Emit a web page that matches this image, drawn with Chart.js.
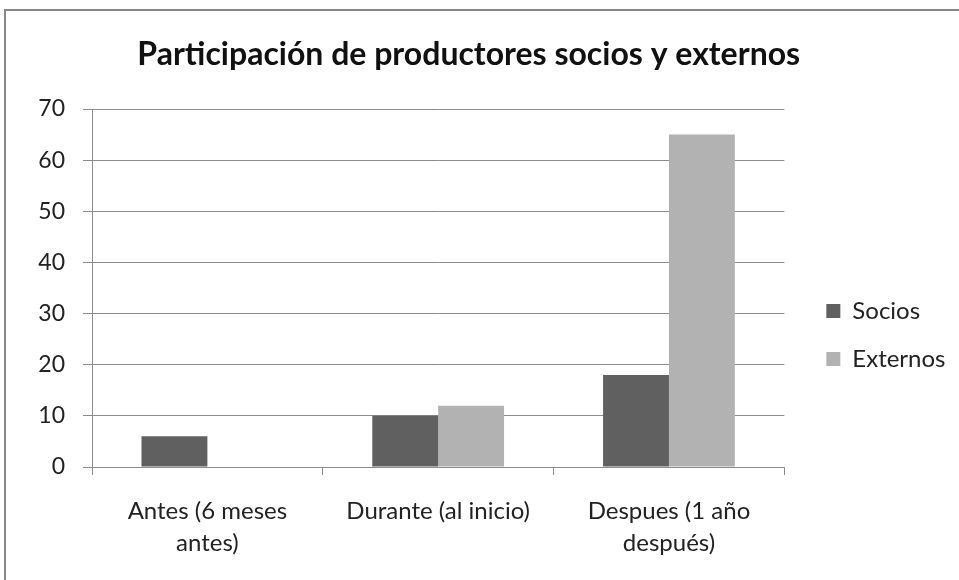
<!DOCTYPE html>
<html lang="es">
<head>
<meta charset="utf-8">
<title>Participación de productores socios y externos</title>
<script src="https://cdn.jsdelivr.net/npm/chart.js@4.4.1/dist/chart.umd.min.js"></script>
<style>
    html, body { margin: 0; padding: 0; background: #ffffff; }
    #chart-wrap { width: 959px; height: 580px; }
</style>
</head>
<body>
<div id="chart-wrap"><canvas id="participation-chart" width="959" height="580"></canvas></div>
<script>
// 데이터
const categoryLabels = [['Antes (6 meses', 'antes)'], 'Durante (al inicio)', ['Despues (1 año', 'después)']];
const seriesNames = ['Socios', 'Externos'];
const sociosValues = [6, 10, 18];
const externosValues = [0, 12, 65];
const yMin = 0;
const yMax = 70;
const yStep = 10;

const FONT_FAMILY = 'Lato, "Open Sans", sans-serif';
const TEXT_COLOR = '#222222';
const LINE_COLOR = '#8c8c8c';

/**
 * 차트 바깥 테두리 (흰 배경 + 회색 선)
 */
const framePlugin = {
    id: 'frame',
    beforeDraw(chart) {
        const ctx = chart.ctx;
        ctx.save();
        ctx.fillStyle = '#ffffff';
        ctx.fillRect(0, 0, chart.width, chart.height);
        ctx.strokeStyle = '#888888';
        ctx.lineWidth = 2;
        ctx.strokeRect(5, 10, chart.width + 20, chart.height + 20);
        ctx.restore();
    }
};

/**
 * 범례 위치 보정 (플롯 오른쪽, 약간 아래)
 */
const legendShiftPlugin = {
    id: 'legendShift',
    afterLayout(chart) {
        const legend = chart.legend;
        if (!legend) return;
        const dx = 18;
        const dy = 45;
        legend.left += dx;
        legend.right += dx;
        legend.top += dy;
        legend.bottom += dy;
    }
};

class ParticipationChart {
    constructor() {
        this.canvas = document.getElementById('participation-chart');
        this.chart = null;
    }

    /**
     * 차트 초기화
     */
    initialize() {
        const ctx = this.canvas.getContext('2d');

        this.chart = new Chart(ctx, {
            type: 'bar',
            data: {
                labels: categoryLabels,
                datasets: [
                    {
                        label: seriesNames[0],
                        data: sociosValues,
                        backgroundColor: '#606060',
                        borderWidth: 0
                    },
                    {
                        label: seriesNames[1],
                        data: externosValues,
                        backgroundColor: '#b2b2b2',
                        borderWidth: 0
                    }
                ]
            },
            options: {
                responsive: false,
                animation: false,
                layout: {
                    padding: { left: 0, right: 21.5, top: 0, bottom: 0 }
                },
                datasets: {
                    bar: {
                        categoryPercentage: 0.571,
                        barPercentage: 1.0
                    }
                },
                plugins: {
                    title: {
                        display: true,
                        text: 'Participación de productores socios y externos',
                        color: '#111111',
                        font: { family: FONT_FAMILY, size: 32, weight: 'bold', lineHeight: 1.2 },
                        padding: { top: 35, bottom: 35.6 }
                    },
                    legend: {
                        position: 'right',
                        labels: {
                            boxWidth: 14,
                            boxHeight: 14,
                            padding: 24,
                            color: TEXT_COLOR,
                            font: { family: FONT_FAMILY, size: 24 }
                        }
                    },
                    tooltip: { enabled: false }
                },
                scales: {
                    x: {
                        grid: {
                            display: true,
                            offset: true,
                            drawOnChartArea: false,
                            drawTicks: true,
                            tickLength: 8,
                            color: LINE_COLOR
                        },
                        border: { display: true, color: LINE_COLOR },
                        ticks: {
                            autoSkip: false,
                            maxRotation: 0,
                            padding: 20,
                            color: TEXT_COLOR,
                            font: { family: FONT_FAMILY, size: 24, lineHeight: '32px' }
                        },
                        afterFit(scale) {
                            scale.height = 113;
                        }
                    },
                    y: {
                        min: yMin,
                        max: yMax,
                        ticks: {
                            stepSize: yStep,
                            padding: 18,
                            color: TEXT_COLOR,
                            font: { family: FONT_FAMILY, size: 23 }
                        },
                        grid: {
                            color: LINE_COLOR,
                            drawTicks: true,
                            tickLength: 9
                        },
                        border: { display: true, color: LINE_COLOR },
                        afterFit(scale) {
                            scale.width = 92;
                        }
                    }
                }
            },
            plugins: [framePlugin, legendShiftPlugin]
        });
    }
}

const participationChart = new ParticipationChart();

document.addEventListener('DOMContentLoaded', () => {
    participationChart.initialize();
});
</script>
</body>
</html>
